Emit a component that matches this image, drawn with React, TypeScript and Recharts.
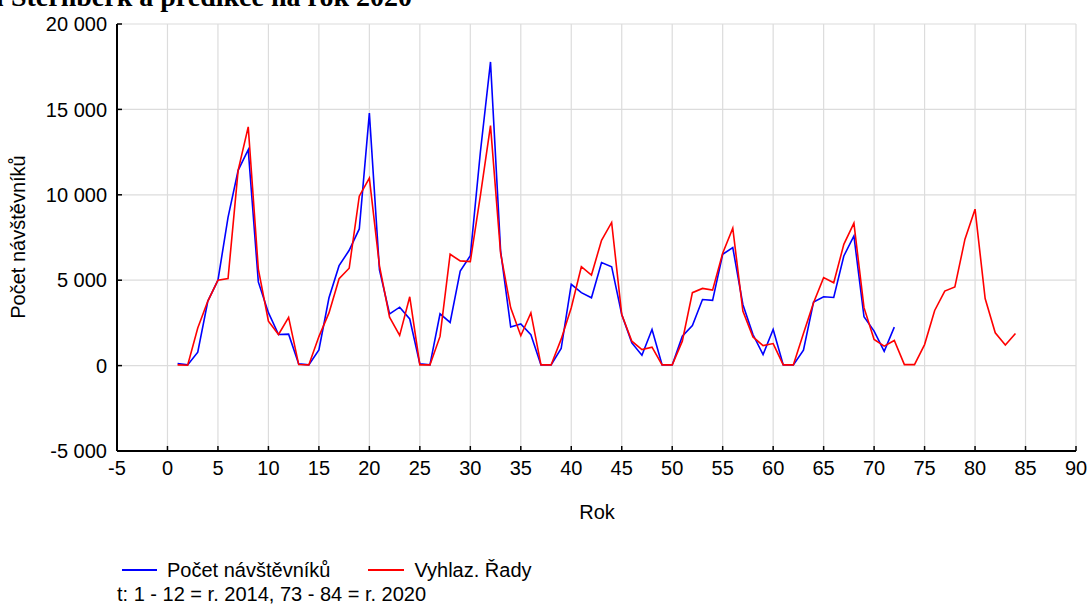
import React from 'react';
import { LineChart, Line, XAxis, YAxis, CartesianGrid } from 'recharts';

// Time index (months): 1-12 = 2014 ... 73-84 = 2020
const periods = [
  1, 2, 3, 4, 5, 6, 7, 8, 9, 10, 11, 12,
  13, 14, 15, 16, 17, 18, 19, 20, 21, 22, 23, 24,
  25, 26, 27, 28, 29, 30, 31, 32, 33, 34, 35, 36,
  37, 38, 39, 40, 41, 42, 43, 44, 45, 46, 47, 48,
  49, 50, 51, 52, 53, 54, 55, 56, 57, 58, 59, 60,
  61, 62, 63, 64, 65, 66, 67, 68, 69, 70, 71, 72,
  73, 74, 75, 76, 77, 78, 79, 80, 81, 82, 83, 84,
];

// Observed visitors (t = 1..72)
const visitors = [
  120, 40, 780, 3780, 5000, 8680, 11430, 12640, 4900, 3100, 1820, 1840,
  100, 40, 920, 3970, 5850, 6750, 8000, 14780, 5600, 3030, 3420, 2730,
  100, 40, 3030, 2530, 5540, 6430, 12520, 17780, 6720, 2260, 2440, 1810,
  40, 40, 1000, 4760, 4270, 3970, 6030, 5790, 2990, 1330, 610, 2110,
  40, 40, 1720, 2350, 3870, 3820, 6520, 6910, 3580, 1820, 650, 2110,
  40, 40, 900, 3720, 4030, 3990, 6420, 7590, 2860, 2020, 840, 2250,
];

// Smoothed series incl. forecast (t = 1..84)
const smoothed = [
  40, 20, 2200, 3780, 5000, 5100, 11430, 13975, 5650, 2600, 1820, 2820,
  60, 40, 1700, 3085, 5090, 5700, 9920, 10980, 5840, 2830, 1770, 4030,
  40, 40, 1710, 6520, 6130, 6090, 9960, 14050, 6580, 3380, 1750, 3090,
  40, 40, 1550, 3390, 5790, 5300, 7340, 8380, 2990, 1430, 940, 1080,
  40, 40, 1430, 4270, 4520, 4420, 6580, 8040, 3190, 1680, 1170, 1290,
  40, 40, 1880, 3680, 5150, 4850, 7100, 8340, 3390, 1530, 1140, 1470,
  60, 60, 1230, 3230, 4360, 4600, 7400, 9160, 3930, 1920, 1210, 1880,
];

const xTicks = [-5, 0, 5, 10, 15, 20, 25, 30, 35, 40, 45, 50, 55, 60, 65, 70, 75, 80, 85, 90];
const yTicks = [-5000, 0, 5000, 10000, 15000, 20000];
const yMinorTicks = [-5000, -2500, 0, 2500, 5000, 7500, 10000, 12500, 15000, 17500, 20000];

const data = periods.map((t, i) => ({
  t,
  visitors: i < visitors.length ? visitors[i] : null,
  smoothed: smoothed[i],
}));

const fmt = (v: number) => {
  const s = String(Math.abs(v)).replace(/\B(?=(\d{3})+(?!\d))/g, ' ');
  return v < 0 ? '-' + s : s;
};

const FONT = '"Liberation Sans", Arial, sans-serif';
const tickStyle = { fill: '#000', fontSize: 20, fontFamily: FONT };

export default function App() {
  return (
    <div
      style={{
        position: 'absolute',
        left: 0,
        top: 0,
        width: 1090,
        height: 604,
        background: '#fff',
        overflow: 'hidden',
        fontFamily: FONT,
        color: '#000',
      }}
    >
      <LineChart
        width={1090}
        height={604}
        data={data}
        margin={{ top: 24, right: 14, bottom: 103, left: 0 }}
      >
        <CartesianGrid stroke="#dcdcdc" strokeWidth={1.2} />
        <XAxis
          dataKey="t"
          type="number"
          domain={[-5, 90]}
          ticks={xTicks}
          interval={0}
          height={50}
          tick={tickStyle}
          tickSize={-5}
          tickMargin={15}
          stroke="#000"
          axisLine={{ stroke: '#000', strokeWidth: 2 }}
          tickLine={{ stroke: '#000', strokeWidth: 1.5 }}
        />
        <XAxis
          xAxisId="top"
          orientation="top"
          type="number"
          domain={[-5, 90]}
          ticks={xTicks}
          interval={0}
          height={0}
          tick={false}
          tickSize={-5}
          axisLine={{ stroke: '#000', strokeWidth: 1.5 }}
          tickLine={{ stroke: '#000', strokeWidth: 1.5 }}
        />
        <YAxis
          type="number"
          domain={[-5000, 20000]}
          ticks={yTicks}
          interval={0}
          width={117}
          tick={tickStyle}
          tickFormatter={fmt}
          tickSize={-5}
          tickMargin={15}
          axisLine={{ stroke: '#000', strokeWidth: 2 }}
          tickLine={{ stroke: '#000', strokeWidth: 1.5 }}
        />
        <YAxis
          yAxisId="right"
          orientation="right"
          type="number"
          domain={[-5000, 20000]}
          ticks={yMinorTicks}
          interval={0}
          width={0}
          tick={false}
          tickSize={-5}
          axisLine={{ stroke: '#000', strokeWidth: 2 }}
          tickLine={{ stroke: '#000', strokeWidth: 1.5 }}
        />
        <Line
          type="linear"
          dataKey="visitors"
          stroke="#0000ff"
          strokeWidth={1.6}
          dot={false}
          isAnimationActive={false}
          connectNulls={false}
        />
        <Line
          type="linear"
          dataKey="smoothed"
          stroke="#ff0000"
          strokeWidth={1.6}
          dot={false}
          isAnimationActive={false}
        />
      </LineChart>

      {/* chart title, running off the top-left edge */}
      <div
        style={{
          position: 'absolute',
          right: 1090 - 412,
          top: -19,
          whiteSpace: 'nowrap',
          fontFamily: '"Liberation Serif", "Times New Roman", serif',
          fontWeight: 'bold',
          fontSize: 28,
          lineHeight: '32px',
        }}
      >
        Návštěvnost hradu Šternberk a predikce na rok 2020
      </div>

      {/* y axis title */}
      <div
        style={{
          position: 'absolute',
          left: 18,
          top: 237,
          transform: 'translate(-50%, -50%) rotate(-90deg)',
          whiteSpace: 'nowrap',
          fontSize: 20,
        }}
      >
        Počet návštěvníků
      </div>

      {/* x axis title */}
      <div
        style={{
          position: 'absolute',
          left: 597,
          top: 512,
          transform: 'translate(-50%, -50%)',
          fontSize: 20,
        }}
      >
        Rok
      </div>

      {/* legend */}
      <div
        style={{
          position: 'absolute',
          left: 122,
          top: 557,
          display: 'flex',
          alignItems: 'center',
          fontSize: 20,
          lineHeight: '26px',
          whiteSpace: 'nowrap',
        }}
      >
        <span style={{ display: 'inline-block', width: 35, height: 2, background: '#0000ff', marginRight: 10 }} />
        <span>Počet návštěvníků</span>
        <span style={{ display: 'inline-block', width: 36, height: 2, background: '#ff0000', marginLeft: 38, marginRight: 10 }} />
        <span>Vyhlaz. Řady</span>
      </div>
      <div
        style={{
          position: 'absolute',
          left: 117,
          top: 584,
          fontSize: 20,
          lineHeight: '20px',
          whiteSpace: 'nowrap',
        }}
      >
        t: 1 - 12 = r. 2014, 73 - 84 = r. 2020
      </div>
    </div>
  );
}
